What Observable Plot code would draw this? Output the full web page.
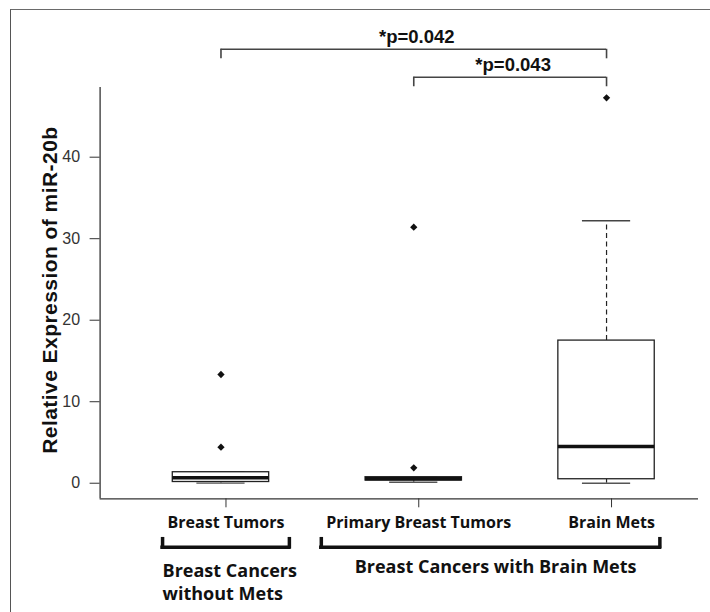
<!DOCTYPE html>
<html><head><meta charset="utf-8">
<script src="https://cdn.jsdelivr.net/npm/d3@7"></script>
<script src="https://cdn.jsdelivr.net/npm/@observablehq/plot@0.6"></script>
<style>
html,body{margin:0;padding:0;background:#fff;overflow:hidden}
#wrap{position:relative;width:710px;height:612px}
#wrap svg{position:absolute;left:0;top:0}
#border{position:absolute;left:10px;top:9px;width:800px;height:700px;border-left:1.5px solid #555;border-top:1.5px solid #6a6a6a;pointer-events:none}
</style></head><body><div id="wrap"></div>
<script>
// ---- data ----
const categories = ["Breast Tumors", "Primary Breast Tumors", "Brain Mets"];
const whiskerLow  = [0.02, 0.12, 0.0];
const q1          = [0.15, 0.33, 0.49];
const median      = [0.66, 0.54, 4.5];
const q3          = [1.35, 0.74, 17.5];
const whiskerHigh = [1.35, 0.74, 32.2];
const outlierGroup = [0, 0, 1, 1, 2];
const outlierValue = [4.42, 13.34, 1.89, 31.41, 47.29];
const yTicks = [0, 10, 20, 30, 40];
const yTitle = "Relative Expression of miR-20b";
const comparisonFrom  = [0, 1];
const comparisonTo    = [2, 2];
const comparisonLabel = ["*p=0.042", "*p=0.043"];
const groupNames = ["Breast Cancers\nwithout Mets", "Breast Cancers with Brain Mets"];
const groupFirst = [0, 1];
const groupLast  = [0, 2];

// ---- layout ----
const W = 710, H = 612;
const mL = 99.6, mR = 12, mT = 87, mB = 113.7;
const xDomain = [0.373, 3.477];
const yDomain = [-1.91, 48.55];
const pxPerX = (W - mL - mR) / (xDomain[1] - xDomain[0]);
const pxPerY = (H - mT - mB) / (yDomain[1] - yDomain[0]);
const tickFontSize = 16, tickDx = 5;
const tickFont = `bold ${tickFontSize}px "Open Sans"`;

const boxes = categories.map((c, i) => ({
  x: i + 1, name: c, lo: whiskerLow[i], q1: q1[i], med: median[i], q3: q3[i], hi: whiskerHigh[i]
}));
const outliers = outlierValue.map((v, k) => ({x: outlierGroup[k] + 1, y: v}));

// significance brackets (above the frame)
const bracketTop = yDomain[1] + 4.69, bracketStep = 3.43, bracketDrop = 1.17;
const comps = comparisonLabel.map((t, k) => ({
  x1: comparisonFrom[k] + 1, x2: comparisonTo[k] + 1,
  y: bracketTop - k * bracketStep, label: t
}));
const compEnds = comps.flatMap(c => [{x: c.x1, y1: c.y, y2: c.y - bracketDrop}, {x: c.x2, y1: c.y, y2: c.y - bracketDrop}]);

// group brackets (below the axis) span the tick labels of their members
const ctx = document.createElement("canvas").getContext("2d");
ctx.font = tickFont;
const labelW = categories.map(c => ctx.measureText(c).width);
const groupBarY = yDomain[0] - 48.4 / pxPerY;
const groupEndY = groupBarY + 8.0 / pxPerY;
const groupTextY = yDomain[0] - 61.2 / pxPerY;
const groups = groupNames.map((g, k) => {
  const x1 = groupFirst[k] + 1 + (tickDx - labelW[groupFirst[k]] / 2 - 5) / pxPerX;
  const x2 = groupLast[k] + 1 + (tickDx + labelW[groupLast[k]] / 2 + 5) / pxPerX;
  return {name: g, x1, x2, xc: (x1 + x2) / 2, lines: g.split("\n").length};
});
const groupEnds = groups.flatMap(g => [{x: g.x1}, {x: g.x2}]);

const ink = "#222";
const chart = Plot.plot({
  width: W, height: H,
  marginLeft: mL, marginRight: mR, marginTop: mT, marginBottom: mB,
  style: {fontFamily: "'Liberation Sans', Arial, sans-serif", background: "transparent", overflow: "visible", color: ink},
  x: {domain: xDomain},
  y: {domain: yDomain},
  marks: [
    // axis lines (L-shaped frame)
    Plot.ruleX([xDomain[0]], {stroke: "#333", strokeWidth: 1.3}),
    Plot.ruleY([yDomain[0]], {stroke: "#333", strokeWidth: 1.3}),
    Plot.axisY({ticks: yTicks, tickSize: 10, tickPadding: 10, fontSize: 16, fill: "#333", stroke: "#333", label: null}),
    Plot.axisX({ticks: [1, 2, 3], tickFormat: d => categories[d - 1], tickSize: 9, tickPadding: 9,
      fontSize: tickFontSize, fontWeight: "bold", fontFamily: "'Open Sans', sans-serif", fill: "#111", stroke: "#333",
      textStroke: "none", dx: tickDx, label: null}),
    // whiskers
    Plot.ruleX(boxes, {x: "x", y1: "q3", y2: "hi", stroke: ink, strokeWidth: 1.2, strokeDasharray: "5,3.5"}),
    Plot.ruleX(boxes, {x: "x", y1: "lo", y2: "q1", stroke: ink, strokeWidth: 1.2}),
    Plot.ruleY(boxes, {y: "hi", x1: d => d.x - 0.125, x2: d => d.x + 0.125, stroke: "#444", strokeWidth: 1.3}),
    Plot.ruleY(boxes, {y: "lo", x1: d => d.x - 0.125, x2: d => d.x + 0.125, stroke: "#555", strokeWidth: 1.3}),
    // boxes
    Plot.rect(boxes, {x1: d => d.x - 0.25, x2: d => d.x + 0.25, y1: "q1", y2: "q3", fill: "white", stroke: ink, strokeWidth: 1.3}),
    Plot.ruleY(boxes, {y: "med", x1: d => d.x - 0.25, x2: d => d.x + 0.25, stroke: "#111", strokeWidth: 3.5}),
    // outliers
    Plot.dot(outliers, {x: "x", y: "y", symbol: "square", r: 2.9, rotate: 45, fill: "#111", stroke: "none"}),
    // significance brackets
    Plot.ruleY(comps, {y: "y", x1: "x1", x2: "x2", stroke: "#444", strokeWidth: 1.6}),
    Plot.ruleX(compEnds, {x: "x", y1: "y1", y2: "y2", stroke: "#444", strokeWidth: 1.6}),
    Plot.text(comps, {x: d => (d.x1 + d.x2) / 2, y: "y", text: "label", lineAnchor: "bottom", dy: -6, dx: 3,
      fontSize: 18.5, fontWeight: "bold", fill: "#111"}),
    // group brackets
    Plot.ruleY(groups, {y: groupBarY, x1: "x1", x2: "x2", stroke: "#111", strokeWidth: 3.5, strokeLinecap: "square"}),
    Plot.ruleX(groupEnds, {x: "x", y1: groupBarY, y2: groupEndY, stroke: "#111", strokeWidth: 3.5, strokeLinecap: "square"}),
    Plot.text(groups, {filter: d => d.lines > 1, x: "x1", y: groupTextY, text: "name", textAnchor: "start", lineAnchor: "top",
      lineHeight: 1.3, fontSize: 18, fontWeight: "bold", fontFamily: "'Open Sans', sans-serif", fill: "#111"}),
    Plot.text(groups, {filter: d => d.lines === 1, x: d => d.xc + 5 / pxPerX, y: groupTextY, text: "name", lineAnchor: "top",
      fontSize: 18, fontWeight: "bold", fontFamily: "'Open Sans', sans-serif", fill: "#111"}),
    // y-axis title
    Plot.text([yTitle], {frameAnchor: "left", dx: -43, dy: -3, rotate: -90, textAnchor: "middle", lineAnchor: "bottom", text: d => d,
      fontSize: 21, fontWeight: "bold", fill: "#111"})
  ]
});
d3.select(chart).selectAll("text").filter(function() { return this.textContent === yTitle; })
  .style("letter-spacing", "0.45px");
const wrap = document.getElementById("wrap");
wrap.appendChild(chart);
const border = document.createElement("div");
border.id = "border";
wrap.appendChild(border);
</script>
</body></html>
